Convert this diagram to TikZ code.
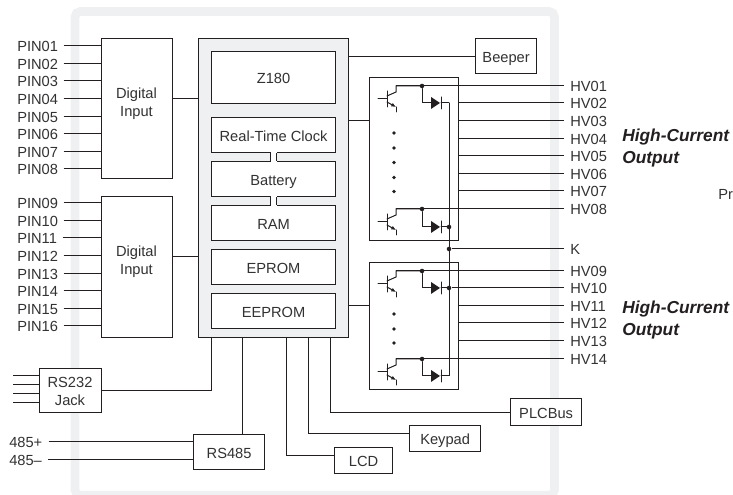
\documentclass[tikz,border=0pt]{standalone}
\usepackage{fontspec}
\setmainfont{Liberation Sans}
\usetikzlibrary{arrows.meta, calc, positioning}
\definecolor{boardgray}{RGB}{238,240,242}
\definecolor{inkline}{RGB}{35,31,32}
\definecolor{inktext}{RGB}{50,50,52}
\tikzset{
    band/.style       = {draw = boardgray, line width = 6.5pt, rounded corners = 4},
    wire/.style       = {draw = inkline, line width = 0.75pt},
    device/.style     = {draw = inkline, line width = 0.75pt, line cap = round},
    block/.style      = {draw = inkline, line width = 0.95pt, fill = white, anchor = north west, inner sep = 0pt, align = center, text = inktext, font = \fontsize{11}{13.5}\selectfont},
    port/.style       = {block, text height = 9.5pt, text depth = 0pt},
    memory/.style     = {port, line width = 0.85pt},
    sized/.style 2 args = {minimum width = #1*0.75pt, minimum height = #2*0.75pt},
    signal/.style     = {anchor = west, inner sep = 0pt, text height = 8pt, text depth = 0pt, text = inktext, font = \fontsize{11}{13.5}\selectfont},
    joint/.style      = {circle, fill = inkline, inner sep = 0pt, minimum size = 3.4pt},
    blocktext/.style  = {inner sep = 0pt, align = center, text = inktext, font = \fontsize{11}{13.5}\selectfont},
    note/.style       = {anchor = west, inner sep = 0pt, align = left, text = inkline, font = \fontsize{13}{16.5}\selectfont\bfseries\itshape}
}

\begin{document}
\begin{tikzpicture}[x=0.75pt,y=-0.75pt]
		\useasboundingbox (0,0) rectangle (733,495);
		\draw[band] (75,11.5) rectangle (554.5,495.3);

		% input side
		\node[block, sized={71}{140}] (digin1) at (101,38) {};
		\node[block, sized={71}{141}] (digin2) at (101,196) {};
		\node[blocktext] (digin1text) at (136.5,103.5) {Digital\\Input};
		\node[blocktext] (digin2text) at (136.5,261.5) {Digital\\Input};
		\foreach \n/\y in {01/46,02/64,03/81,04/99,05/117,06/134,07/152,08/169}{
			\node[signal] (pin\n) at (17,\y) {PIN\n};
			\draw[wire] ([xshift=4pt]pin\n.east) -- (pin\n.east -| digin1.west);
		}
		\foreach \n/\y in {09/203,10/221,11/238,12/256,13/274,14/291,15/309,16/326}{
			\node[signal] (pin\n) at (17,\y) {PIN\n};
			\draw[wire] ([xshift=4pt]pin\n.east) -- (pin\n.east -| digin2.west);
		}

		% controller and memories
		\node[block, sized={150}{299}, fill=boardgray, line width=1.1pt] (main) at (198,38) {};
		\node[memory, sized={124}{52}] (cpu) at (211,51) {Z180};
		\node[memory, sized={124}{35}] (rtc) at (211,117) {Real-Time Clock};
		\node[memory, sized={124}{35}] (battery) at (211,161) {Battery};
		\node[memory, sized={124}{35}] (ram) at (211,205) {RAM};
		\node[memory, sized={124}{35}] (eprom) at (211,249) {EPROM};
		\node[memory, sized={124}{35}] (eeprom) at (211,293) {EEPROM};
		\foreach \a/\b in {rtc/battery,battery/ram}{
			\fill[white] ([xshift=-2.25pt,yshift=0.6pt]\a.south) rectangle ([xshift=2.25pt,yshift=-0.6pt]\b.north);
			\draw[wire] ([xshift=-2.25pt]\a.south) -- ([xshift=-2.25pt]\b.north);
			\draw[wire] ([xshift=2.25pt]\a.south) -- ([xshift=2.25pt]\b.north);
		}
		\draw[wire] (pin04.east -| digin1.east) -- (pin04.east -| main.west);
		\coordinate (digin2out) at (172,257);
		\draw[wire] (digin2out) -- (digin2out -| main.west);

		% driver banks
		\node[block, sized={89}{163}] (bank1) at (369,77) {};
		\node[block, sized={89}{127}] (bank2) at (369,262) {};
		\foreach \n/\y in {01/86,02/103,03/121,04/139,05/156,06/174,07/191,08/209,09/271,10/288,11/306,12/323,13/341,14/359}{
			\node[signal] (hv\n) at (570,\y) {HV\n};
		}
		\node[signal] (kline) at (570,249) {K};
		\foreach \n in {02,03,04,05,06,07}{
			\draw[wire] (hv\n.west -| bank1.east) -- ([xshift=-4.5pt]hv\n.west);
		}
		\foreach \n in {11,12,13}{
			\draw[wire] (hv\n.west -| bank2.east) -- ([xshift=-4.5pt]hv\n.west);
		}
		\foreach \n/\y/\d in {01/86/103,08/209/227,09/271/288,14/359/376}{
			\draw[device] (378,\y+13) -- (387,\y+13);
			\draw[device] (387,\y+5) -- (387,\y+21);
			\draw[device] (387,\y+10) -- (396,\y+6) -- (396,\y) -- (422,\y);
			\draw[wire] (396,\y) -- ([xshift=-4.5pt]hv\n.west);
			\draw[device] (396,\y+21) -- (396,\y+26);
			\draw[device, -{Latex[length=3.5pt,width=3pt]}] (387,\y+16) -- (396,\y+21);
			\node[joint] (tap\n) at (422,\y) {};
			\draw[device] (tap\n) |- (431,\d);
			\fill[inkline] (431,\d-6) -- (440,\d) -- (431,\d+6) -- cycle;
			\draw[device] (441,\d-6) -- (441,\d+6);
			\draw[device] (441,\d) -- (449,\d);
		}
		\draw[wire] (449,103) -- (449,376);
		\node[joint] (bus1) at (449,227) {};
		\node[joint] (bus2) at (449,249) {};
		\node[joint] (bus3) at (449,288) {};
		\draw[wire] (bus2) -- ([xshift=-4.5pt]kline.west);
		\draw[wire] (bus3) -- ([xshift=-4.5pt]hv10.west);
		\foreach \y in {133,148,162.5,177.5,191.5,314,329,343}{
			\fill[inkline] (394,\y) circle (1.9);
		}
		\draw[wire] (hv03.west -| main.east) -- (hv03.west -| bank1.west);
		\draw[wire] (hv11.west -| main.east) -- (hv11.west -| bank2.west);

		% peripherals
		\node[port, sized={61}{35}] (beeper) at (475,38) {Beeper};
		\node[block, sized={62}{44}] (rs232) at (39,368) {};
		\node[blocktext] (rs232text) at (70,391) {RS232\\Jack};
		\node[port, sized={71}{35}] (rs485) at (193,434) {RS485};
		\node[port, sized={58}{26}] (lcd) at (334,447) {LCD};
		\node[port, sized={71}{26}] (keypad) at (409,425) {Keypad};
		\node[port, sized={71}{27}] (plcbus) at (510,398) {PLCBus};
		\draw[wire] (main.east |- beeper.west) -- (beeper.west);
		\foreach \y in {376,385,394,403}{
			\coordinate (stub\y) at (13,\y);
			\draw[wire] (stub\y) -- (stub\y -| rs232.west);
		}
		\node[signal] (plus485) at (9,442) {485+};
		\node[signal] (minus485) at (9,460) {485--};
		\draw[wire] ([xshift=4.5pt]plus485.east) -- (plus485.east -| rs485.west);
		\draw[wire] ([xshift=4.5pt]minus485.east) -- (minus485.east -| rs485.west);
		\coordinate (port1) at (211,337);
		\coordinate (port2) at (242,337);
		\coordinate (port3) at (286,337);
		\coordinate (port4) at (308,337);
		\coordinate (port5) at (330,337);
		\draw[wire] (port1) |- (rs232.east);
		\draw[wire] (port2) -- (port2 |- rs485.north);
		\draw[wire] (port3) |- (lcd.west |- 0,456);
		\draw[wire] (port4) |- (keypad.west |- 0,434);
		\draw[wire] (port5) |- (plcbus.west);

		\node[note] (output1) at (622,148) {High-Current\\Output};
		\node[note] (output2) at (622,320) {High-Current\\Output};
		\node[signal] (cutoff) at (718,194) {Pr};
\end{tikzpicture}
\end{document}
